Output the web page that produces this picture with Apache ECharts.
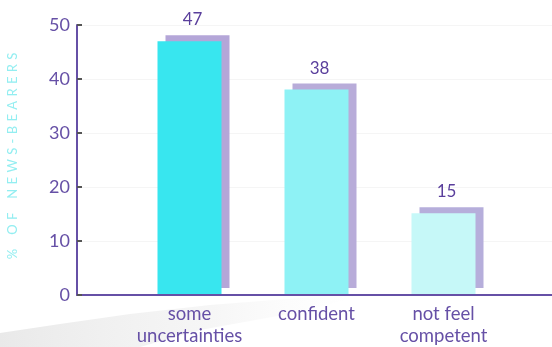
<!DOCTYPE html>
<html>
<head>
<meta charset="utf-8">
<script src="https://cdn.jsdelivr.net/npm/echarts@6/dist/echarts.min.js"></script>
<style>
  html, body { margin: 0; padding: 0; background: #ffffff; }
  #chart { width: 552px; height: 347px; }
</style>
</head>
<body>
<div id="chart"></div>
<script>
// Share of news-bearers by how they feel about delivering bad news
const categories = ['some\nuncertainties', 'confident', 'not feel\ncompetent'];
const percentValues = [47, 38, 15];
const barColors = ['#38e6ef', '#8ef2f5', '#c6f8f8'];
const shadowColors = ['#b4a6d8', '#b8acd9', '#b6aedb'];
const yTicks = [0, 10, 20, 30, 40, 50];
const yTitle = '% OF NEWS-BEARERS';

const purple = '#6650a6';
const font = 'Lato, "Open Sans", sans-serif';

// spread the title letters out
const spacedTitle = yTitle.split(' ').map(w => w.split('').join('\u2004')).join('\u2003\u2004');

const chart = echarts.init(document.getElementById('chart'), null, { renderer: 'canvas' });

chart.setOption({
  animation: false,
  backgroundColor: '#ffffff',
  graphic: [
    {
      // soft grey sheet under the lower left of the plot
      type: 'polygon',
      silent: true,
      z: -10,
      shape: {
        points: [[0, 347], [0, 333], [60, 324], [130, 314], [210, 305], [300, 298], [360, 296], [300, 312], [200, 330], [140, 347]]
      },
      style: {
        fill: new echarts.graphic.LinearGradient(0, 0, 1, 0, [
          { offset: 0, color: 'rgba(215,215,215,0.55)' },
          { offset: 0.6, color: 'rgba(230,230,230,0.35)' },
          { offset: 1, color: 'rgba(245,245,245,0)' }
        ])
      }
    },
    {
      type: 'text',
      silent: true,
      x: 13,
      y: 156,
      rotation: Math.PI / 2,
      style: {
        text: spacedTitle,
        fill: '#93eef1',
        font: '13px ' + font,
        align: 'center',
        verticalAlign: 'middle'
      }
    }
  ],
  grid: [
    { left: 77, right: 0, top: 25, bottom: 52 },
    { left: 126, width: 381, top: 25, bottom: 52 }
  ],
  xAxis: [
    {
      gridIndex: 0,
      type: 'value',
      min: 0, max: 1,
      axisLine: { show: true, onZero: false, lineStyle: { color: purple, width: 2 } },
      axisTick: { show: false },
      axisLabel: { show: false },
      splitLine: { show: false }
    },
    {
      gridIndex: 1,
      type: 'category',
      data: categories,
      axisLine: { show: false },
      axisTick: { show: false },
      axisLabel: {
        color: purple,
        fontFamily: font,
        fontSize: 18.5,
        lineHeight: 22,
        margin: 9,
        interval: 0
      }
    }
  ],
  yAxis: [
    {
      gridIndex: 0,
      type: 'value',
      min: yTicks[0],
      max: yTicks[yTicks.length - 1],
      interval: 10,
      axisLine: { show: true, lineStyle: { color: purple, width: 2 } },
      axisTick: { show: true, inside: true, length: 5, lineStyle: { color: '#555555', width: 2 } },
      axisLabel: { color: purple, fontFamily: font, fontSize: 18, margin: 7 },
      splitLine: { show: true, lineStyle: { color: '#f5f5f5', width: 1 } }
    },
    {
      gridIndex: 1,
      type: 'value',
      min: yTicks[0],
      max: yTicks[yTicks.length - 1],
      interval: 10,
      show: false
    }
  ],
  series: [
    {
      type: 'bar',
      xAxisIndex: 1,
      yAxisIndex: 1,
      barWidth: 64,
      data: percentValues.map((v, i) => ({
        value: v,
        itemStyle: {
          color: barColors[i],
          shadowColor: shadowColors[i],
          shadowBlur: 0,
          shadowOffsetX: 8,
          shadowOffsetY: -6
        }
      })),
      label: {
        show: true,
        position: 'top',
        distance: 13,
        offset: [3, 0],
        color: '#5a3f9c',
        fontFamily: font,
        fontSize: 17
      }
    }
  ]
});
</script>
</body>
</html>
